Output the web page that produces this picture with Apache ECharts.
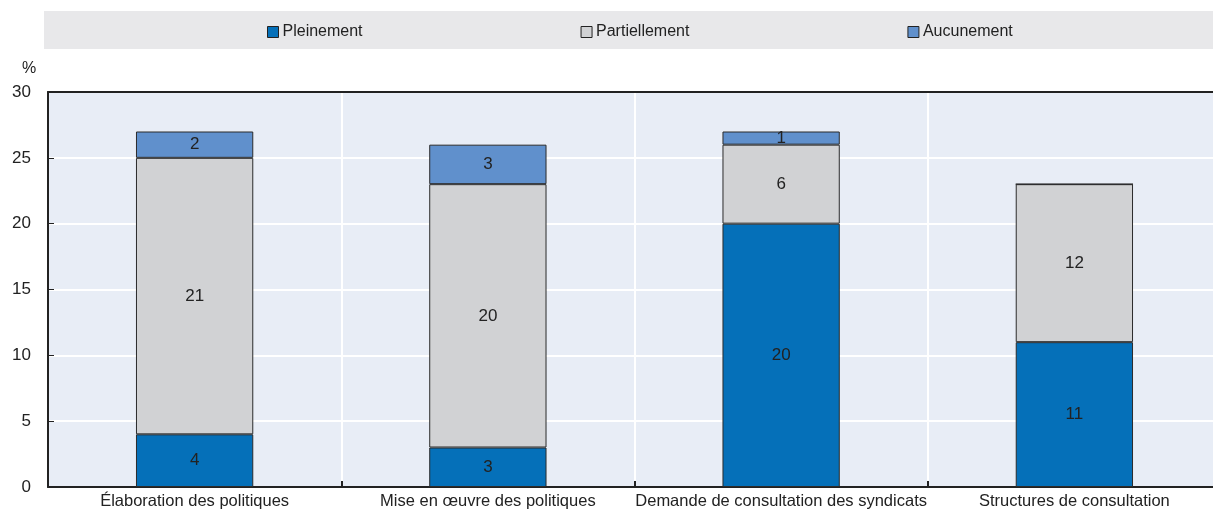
<!DOCTYPE html>
<html><head><meta charset="utf-8">
<script src="https://cdn.jsdelivr.net/npm/echarts@6/dist/echarts.min.js"></script>
<style>html,body{margin:0;padding:0;background:#fff}#c{width:1213px;height:511px}</style>
</head><body><div id="c"></div>
<script>
const categories = ["Élaboration des politiques", "Mise en œuvre des politiques", "Demande de consultation des syndicats", "Structures de consultation"];
const pleinement = [4, 3, 20, 11];
const partiellement = [21, 20, 6, 12];
const aucunement = [2, 3, 1, 0];
const yTicks = [0, 5, 10, 15, 20, 25, 30];

const FONT = '"Liberation Sans", Arial, sans-serif';
const chart = echarts.init(document.getElementById('c'), null, {renderer: 'canvas'});
const labelCfg = {show: true, position: 'inside', color: '#222', fontSize: 17, fontFamily: FONT,
  formatter: p => p.value === 0 ? '' : String(p.value)};
function mk(name, data, color) {
  return {name, type: 'bar', stack: 't', data, barWidth: '40%',
    itemStyle: {color, borderColor: '#2b2b2b', borderWidth: 1},
    label: labelCfg, emphasis: {disabled: true}};
}
chart.setOption({
  animation: false,
  graphic: [
    {type: 'rect', shape: {x: 44, y: 11, width: 1169, height: 38}, style: {fill: '#e8e8ea'}, z: -1},
    {type: 'text', left: 22, top: 61, style: {text: '%', font: '16px ' + FONT, fill: '#222'}}
  ],
  legend: {
    top: 19, left: 262, itemGap: 218, itemWidth: 11, itemHeight: 11,
    icon: 'rect', selectedMode: false,
    textStyle: {fontSize: 16, fontFamily: FONT, color: '#222', padding: [0, 0, 0, -1]},
    data: [
      {name: 'Pleinement', itemStyle: {borderColor: '#222', borderWidth: 1}},
      {name: 'Partiellement', itemStyle: {borderColor: '#222', borderWidth: 1}},
      {name: 'Aucunement', itemStyle: {borderColor: '#222', borderWidth: 1}}
    ]
  },
  grid: {left: 48, right: -8, top: 92, bottom: 24, containLabel: false, outerBoundsMode: 'none',
    show: true, backgroundColor: '#e8edf6', borderWidth: 0},
  xAxis: [{
    type: 'category', data: categories, position: 'bottom',
    axisLine: {show: true, lineStyle: {color: '#222', width: 2}},
    axisTick: {show: true, inside: true, length: 6, alignWithLabel: false, lineStyle: {color: '#222', width: 2}},
    axisLabel: {color: '#222', fontSize: 16.5, fontFamily: FONT, margin: 6, interval: 0},
    splitLine: {show: true, lineStyle: {color: '#ffffff', width: 2}}
  }, {
    type: 'category', data: categories, position: 'top',
    axisLine: {show: true, lineStyle: {color: '#222', width: 2}},
    axisTick: {show: false}, axisLabel: {show: false}, splitLine: {show: false}
  }],
  yAxis: {
    type: 'value', min: 0, max: 30, interval: 5,
    axisLine: {show: true, lineStyle: {color: '#222', width: 2}},
    axisTick: {show: true, inside: true, length: 6, lineStyle: {color: '#222', width: 1}},
    axisLabel: {color: '#222', fontSize: 17, fontFamily: FONT, margin: 17,
      formatter: v => yTicks.includes(v) ? String(v) : ''},
    splitLine: {show: true, lineStyle: {color: '#ffffff', width: 2}}
  },
  series: [
    mk('Pleinement', pleinement, '#0570b9'),
    mk('Partiellement', partiellement, '#d1d2d4'),
    mk('Aucunement', aucunement, '#6090cc')
  ]
});
</script></body></html>
